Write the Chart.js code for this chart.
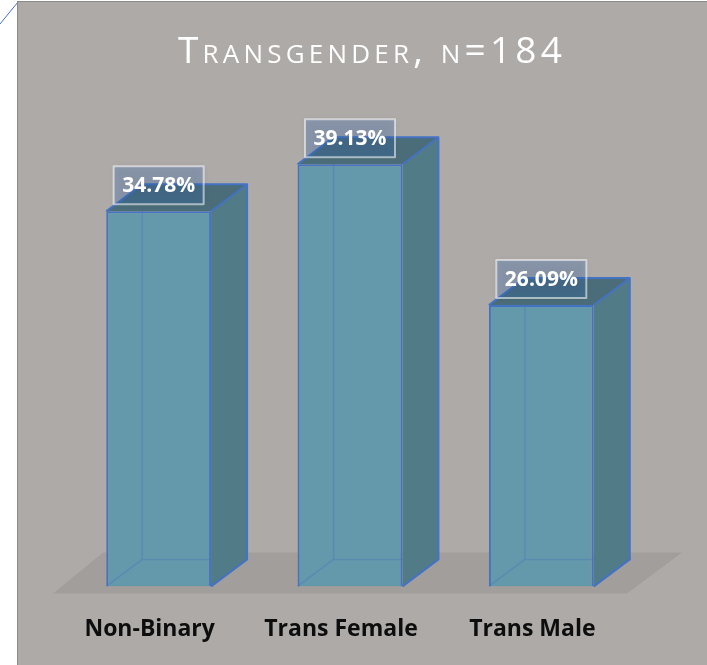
<!DOCTYPE html>
<html lang="en">
<head>
  <meta charset="UTF-8" />
  <title>Transgender, n=184</title>
  <script src="https://cdn.jsdelivr.net/npm/chart.js"></script>
  <style>
    body {
      margin: 0;
      background: #ffffff;
      width: 707px;
      height: 665px;
      overflow: hidden;
      position: relative;
    }
    .corner {
      position: absolute;
      left: 0;
      top: 0;
    }
    .panel {
      position: absolute;
      left: 17px;
      top: 1px;
      width: 690px;
      height: 664px;
      border-left: 1px solid #8c8886;
      border-top: 1px solid #8c8886;
      background: #aeaaa8;
    }
    canvas {
      display: block;
    }
  </style>
</head>
<body>
  <svg class="corner" width="20" height="28">
    <line x1="0" y1="24" x2="18" y2="2" stroke="#4472c4" stroke-width="1" />
  </svg>
  <div class="panel">
    <canvas id="genderChart" width="690" height="664"></canvas>
  </div>

  <script>
    const chartTitle = "Transgender, n=184";
    const categories = ["Non-Binary", "Trans Female", "Trans Male"];
    const shares = [34.78, 39.13, 26.09];
    const shareLabels = ["34.78%", "39.13%", "26.09%"];

    // depth of the fake 3d boxes
    const DX = 36, DY = -27;

    // title in small caps with wide tracking, like the office chart
    const smallCapsTitle = {
      id: "smallCapsTitle",
      afterDraw(chart) {
        const ctx = chart.ctx;
        ctx.save();
        ctx.font = "400 37px 'Open Sans'";
        ctx.fontVariantCaps = "small-caps";
        ctx.letterSpacing = "4.2px";
        ctx.fillStyle = "#ffffff";
        ctx.textAlign = "center";
        ctx.textBaseline = "alphabetic";
        ctx.fillText(chartTitle, 354, 61);
        ctx.restore();
      }
    };

    const box3d = {
      id: "box3d",
      beforeDatasetsDraw(chart) {
        const ctx = chart.ctx;
        const area = chart.chartArea;
        const y0 = chart.scales.y.getPixelForValue(0);
        // floor
        ctx.save();
        ctx.fillStyle = "#a29e9c";
        ctx.beginPath();
        ctx.moveTo(area.left - 10, y0 + 7);
        ctx.lineTo(area.right - 10, y0 + 7);
        ctx.lineTo(area.right + 45, y0 - 34);
        ctx.lineTo(area.left + 40, y0 - 34);
        ctx.closePath();
        ctx.fill();
        ctx.restore();
      },
      afterDatasetsDraw(chart) {
        const ctx = chart.ctx;
        const meta = chart.getDatasetMeta(0);
        meta.data.forEach((bar, i) => {
          const x1 = bar.x - bar.width / 2;
          const x2 = bar.x + bar.width / 2;
          const top = bar.y;
          const bottom = bar.base;
          ctx.save();
          // hidden back edges seen through
          ctx.strokeStyle = "rgba(68,114,196,0.35)";
          ctx.lineWidth = 1.5;
          ctx.beginPath();
          ctx.moveTo(x1 + DX, top + DY);
          ctx.lineTo(x1 + DX, bottom + DY);
          ctx.lineTo(x2 + DX, bottom + DY);
          ctx.moveTo(x1, bottom);
          ctx.lineTo(x1 + DX, bottom + DY);
          ctx.stroke();
          // side face
          ctx.fillStyle = "#517b87";
          ctx.beginPath();
          ctx.moveTo(x2, top);
          ctx.lineTo(x2 + DX, top + DY);
          ctx.lineTo(x2 + DX, bottom + DY);
          ctx.lineTo(x2, bottom);
          ctx.closePath();
          ctx.fill();
          // top face
          ctx.fillStyle = "#4a6d79";
          ctx.beginPath();
          ctx.moveTo(x1, top);
          ctx.lineTo(x1 + DX, top + DY);
          ctx.lineTo(x2 + DX, top + DY);
          ctx.lineTo(x2, top);
          ctx.closePath();
          ctx.fill();
          // outer edges
          ctx.strokeStyle = "#4472c4";
          ctx.lineWidth = 2;
          ctx.lineJoin = "round";
          ctx.beginPath();
          ctx.moveTo(x1, top);
          ctx.lineTo(x1 + DX, top + DY);
          ctx.lineTo(x2 + DX, top + DY);
          ctx.lineTo(x2 + DX, bottom + DY);
          ctx.lineTo(x2, bottom);
          ctx.moveTo(x2, top);
          ctx.lineTo(x2 + DX, top + DY);
          ctx.stroke();

          // value label box
          const cx = bar.x;
          const cy = top - 26;
          const bw = 90, bh = 38;
          ctx.shadowColor = "rgba(0,0,0,0.25)";
          ctx.shadowBlur = 6;
          ctx.fillStyle = "rgba(51,108,191,0.26)";
          ctx.fillRect(cx - bw / 2, cy - bh / 2, bw, bh);
          ctx.shadowBlur = 0;
          ctx.strokeStyle = "rgba(255,255,255,0.55)";
          ctx.lineWidth = 2;
          ctx.strokeRect(cx - bw / 2, cy - bh / 2, bw, bh);
          ctx.fillStyle = "#ffffff";
          ctx.font = "bold 21px 'Open Sans'";
          ctx.textAlign = "center";
          ctx.textBaseline = "middle";
          ctx.fillText(shareLabels[i], cx, cy + 1);
          ctx.restore();
        });
      }
    };

    new Chart(document.getElementById("genderChart"), {
      type: "bar",
      data: {
        labels: categories,
        datasets: [{
          data: shares,
          backgroundColor: "#6399aa",
          borderColor: "#4472c4",
          borderWidth: 2,
          barPercentage: 0.548,
          categoryPercentage: 1
        }]
      },
      options: {
        responsive: false,
        devicePixelRatio: 1,
        animation: false,
        layout: {
          padding: { left: 45, right: 71, top: 99, bottom: -6 }
        },
        plugins: {
          legend: { display: false },
          tooltip: { enabled: false },
          title: { display: false }
        },
        scales: {
          y: {
            display: false,
            min: 0,
            max: 45
          },
          x: {
            grid: { display: false, drawTicks: false },
            border: { display: false },
            ticks: {
              color: "#0d0d0d",
              font: { family: "'Open Sans'", size: 23, weight: "bold" },
              padding: 29,
              labelOffset: -9,
              maxRotation: 0,
              minRotation: 0
            }
          }
        }
      },
      plugins: [box3d, smallCapsTitle]
    });
  </script>
</body>
</html>
